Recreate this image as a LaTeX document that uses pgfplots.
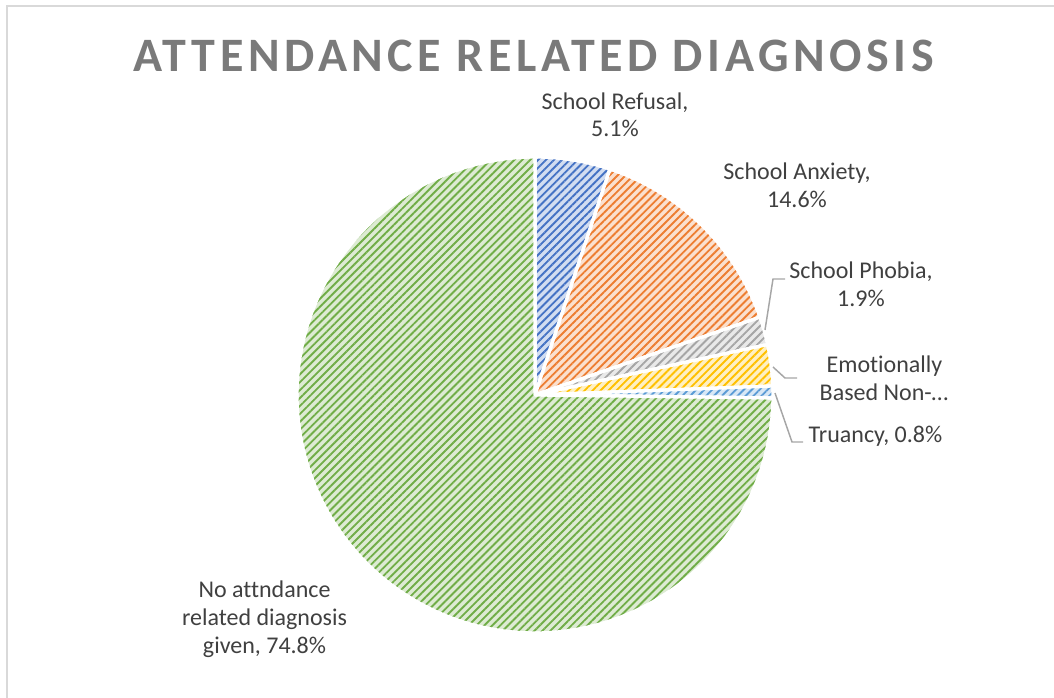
\documentclass[border=0pt]{standalone}
\usepackage{pgfplots}
\pgfplotsset{compat=1.18}
\usepackage{fontspec}
\setmainfont{Carlito}[Ligatures=CommonOff]
\usetikzlibrary{patterns.meta}
\definecolor{c1}{HTML}{4472C4}
\definecolor{c2}{HTML}{ED7D31}
\definecolor{c3}{HTML}{A5A5A5}
\definecolor{c4}{HTML}{FFC000}
\definecolor{c5}{HTML}{5B9BD5}
\definecolor{c6}{HTML}{70AD47}
\definecolor{txt}{HTML}{404040}
\definecolor{ttl}{HTML}{7A7A7A}
\definecolor{lead}{HTML}{A6A6A6}
\definecolor{frame}{HTML}{D9D9D9}
% pie centre and radius in pixel units
\def\cx{535}\def\cy{395}\def\rr{238}
% #1 = cumulative percentage before the slice, #2 = slice percentage, #3 = colour
\newcommand\slice[3]{%
  \pgfmathsetmacro\aS{90-3.6*(#1+#2)}%
  \pgfmathsetmacro\aE{90-3.6*(#1)}%
  \addplot[preaction={fill=#3!24}, pattern={Lines[angle=45,distance=4.2pt,line width=1.4pt]},
    pattern color=#3, draw=white, line width=2.4pt, line join=round,
    domain=\aS:\aE, samples=150, variable=\t]
    ({\cx+\rr*cos(\t)},{\cy-\rr*sin(\t)}) -- (axis cs:\cx,\cy) -- cycle;%
}
\begin{document}
\begin{tikzpicture}
\useasboundingbox (0,0) rectangle (790.5pt,523.5pt);
\begin{axis}[at={(0,0)}, anchor=south west,
  width=790.5pt, height=523.5pt, scale only axis,
  xmin=0, xmax=1054, ymin=0, ymax=698, y dir=reverse,
  hide axis, clip=false]
% frame (left and top edges visible)
\draw[frame, line width=1.2pt] (axis cs:7,698) -- (axis cs:7,6) -- (axis cs:1054,6);
% slices: School Refusal 5.1, School Anxiety 14.6, School Phobia 1.9,
% Emotionally Based Non-attendance 2.8, Truancy 0.8, No diagnosis 74.8
\slice{0}{5.1}{c1}
\slice{5.1}{14.6}{c2}
\slice{19.7}{1.9}{c3}
\slice{21.6}{2.8}{c4}
\slice{24.4}{0.8}{c5}
\slice{25.2}{74.8}{c6}
% leader lines
\draw[lead, line width=1.1pt] (axis cs:765,330) -- (axis cs:773,279) -- (axis cs:785,279);
\draw[lead, line width=1.1pt] (axis cs:773,367) -- (axis cs:785,378) -- (axis cs:797,378);
\draw[lead, line width=1.1pt] (axis cs:775,393) -- (axis cs:792,442) -- (axis cs:803,442);
% title
\node[anchor=base, text=ttl, font={\fontsize{36}{40}\selectfont\bfseries\addfontfeatures{LetterSpace=9.5}}]
  at (axis cs:533.5,71.7) {ATTENDANCE RELATED DIAGNOSIS};
% labels
\tikzset{lbl/.style={anchor=base, text=txt, inner sep=0pt, font={\fontsize{18}{21}\selectfont}}}
\node[lbl] at (axis cs:615,110) {School Refusal,};
\node[lbl] at (axis cs:615,137) {5.1\%};
\node[lbl] at (axis cs:797,180) {School Anxiety,};
\node[lbl] at (axis cs:797,208) {14.6\%};
\node[lbl] at (axis cs:861,279) {School Phobia,};
\node[lbl] at (axis cs:861,307) {1.9\%};
\node[lbl] at (axis cs:884.5,373) {Emotionally};
\node[lbl] at (axis cs:884,401) {Based Non-…};
\node[lbl] at (axis cs:875.5,443) {Truancy, 0.8\%};
\node[lbl] at (axis cs:264.5,598) {No attndance};
\node[lbl] at (axis cs:264.5,625) {related diagnosis};
\node[lbl] at (axis cs:264.5,653) {given, 74.8\%};
\end{axis}
\end{tikzpicture}
\end{document}
